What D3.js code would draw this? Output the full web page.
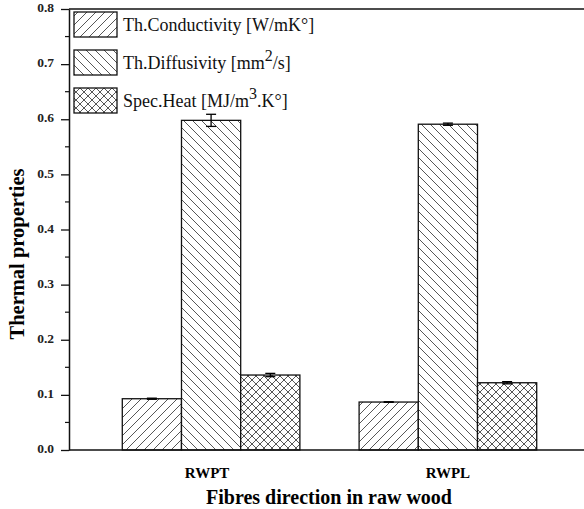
<!DOCTYPE html>
<html>
<head>
<meta charset="utf-8">
<script src="https://cdn.jsdelivr.net/npm/d3@7"></script>
<style>
  body { margin: 0; background: #fff; }
  svg { display: block; }
</style>
</head>
<body>
<div id="chart"></div>
<script>
// Datos
const grupos = ['RWPT', 'RWPL'];
const conductividad = [0.093, 0.087];
const conductividadErr = [0.001, 0.0005];
const difusividad = [0.598, 0.591];
const difusividadErr = [0.011, 0.002];
const calorEsp = [0.136, 0.122];
const calorEspErr = [0.003, 0.002];
const ticksY = [0.0, 0.1, 0.2, 0.3, 0.4, 0.5, 0.6, 0.7, 0.8];

const series = [
  { nombre: 'cond', valores: conductividad, errores: conductividadErr, patron: 'url(#patCond)' },
  { nombre: 'dif', valores: difusividad, errores: difusividadErr, patron: 'url(#patDif)' },
  { nombre: 'calor', valores: calorEsp, errores: calorEspErr, patron: 'url(#patCalor)' }
];

const width = 584, height = 509;
const margen = { left: 69, top: 9, bottom: 450 };
const serif = '"Liberation Serif", "Times New Roman", serif';

const svg = d3.select('#chart').append('svg')
  .attr('width', width).attr('height', height)
  .style('font-family', serif);

// Patrones de relleno
const defs = svg.append('defs');
function patronLineas(id, tam, lineas) {
  const p = defs.append('pattern').attr('id', id)
    .attr('patternUnits', 'userSpaceOnUse').attr('width', tam).attr('height', tam);
  p.append('rect').attr('width', tam).attr('height', tam).attr('fill', '#fff');
  lineas.forEach(d => p.append('path').attr('d', d)
    .attr('stroke', '#444').attr('stroke-width', 0.9).attr('fill', 'none'));
}
patronLineas('patCond', 9, ['M0,9 L9,0', 'M-2,2 L2,-2', 'M7,11 L11,7']);
patronLineas('patDif', 9, ['M0,0 L9,9', 'M-2,7 L2,11', 'M7,-2 L11,2']);
patronLineas('patCalor', 8, ['M0,0 L8,8', 'M0,8 L8,0', 'M-2,6 L2,10', 'M6,-2 L10,2', 'M-2,2 L2,-2', 'M6,10 L10,6']);

// Escalas
const y = d3.scaleLinear().domain([0, 0.8]).range([margen.bottom, margen.top]);
const x = d3.scaleLinear().domain([0.4, 2.6]).range([margen.left, 590]);
const anchoBarra = x(1.25) - x(1);

// Barras
series.forEach((s, i) => {
  const off = (i - 1) * 0.25;
  const g = svg.append('g');
  g.selectAll('rect').data(grupos).enter().append('rect')
    .attr('x', (d, k) => x(k + 1 + off) - anchoBarra / 2)
    .attr('y', (d, k) => y(s.valores[k]))
    .attr('width', anchoBarra)
    .attr('height', (d, k) => y(0) - y(s.valores[k]))
    .attr('fill', s.patron)
    .attr('stroke', '#111').attr('stroke-width', 1.3);

  // Barras de error
  grupos.forEach((d, k) => {
    const cx = x(k + 1 + off);
    const y1 = y(s.valores[k] + s.errores[k]), y2 = y(s.valores[k] - s.errores[k]);
    const eg = g.append('g').attr('stroke', '#000').attr('stroke-width', 1.3);
    eg.append('line').attr('x1', cx).attr('x2', cx).attr('y1', y1).attr('y2', y2);
    eg.append('line').attr('x1', cx - 5).attr('x2', cx + 5).attr('y1', y1).attr('y2', y1);
    eg.append('line').attr('x1', cx - 5).attr('x2', cx + 5).attr('y1', y2).attr('y2', y2);
  });
});

// Eje Y
const ejeY = svg.append('g').attr('transform', `translate(${margen.left},0)`)
  .call(d3.axisLeft(y).tickValues(ticksY).tickFormat(d3.format('.1f')).tickSize(8).tickSizeOuter(0));
ejeY.select('.domain').attr('stroke', '#111').attr('stroke-width', 1.5);
ejeY.selectAll('.tick line').attr('stroke', '#111').attr('stroke-width', 1.3);
ejeY.selectAll('.tick text').attr('font-size', 13.5).attr('font-weight', 'bold')
  .attr('font-family', serif).attr('fill', '#222').attr('x', -15).attr('dy', '0.2em');
// Ticks menores
svg.append('g').selectAll('line').data(d3.range(0.05, 0.8, 0.1)).enter().append('line')
  .attr('x1', margen.left - 4).attr('x2', margen.left)
  .attr('y1', d => y(d)).attr('y2', d => y(d))
  .attr('stroke', '#111').attr('stroke-width', 1.2);

// Eje X y borde superior
svg.append('line').attr('x1', margen.left).attr('x2', width).attr('y1', y(0)).attr('y2', y(0))
  .attr('stroke', '#111').attr('stroke-width', 1.6);
svg.append('line').attr('x1', margen.left).attr('x2', width).attr('y1', y(0.8)).attr('y2', y(0.8))
  .attr('stroke', '#111').attr('stroke-width', 1.6);

svg.append('g').selectAll('text').data(grupos).enter().append('text')
  .attr('x', (d, k) => x(k + 1) - (k === 0 ? 4 : 0)).attr('y', 478)
  .attr('text-anchor', 'middle').attr('font-size', 15).attr('font-weight', 'bold')
  .text(d => d);

// Títulos
svg.append('text').attr('x', 329).attr('y', 504).attr('text-anchor', 'middle')
  .attr('font-size', 20).attr('font-weight', 'bold').text('Fibres direction in raw wood');
svg.append('text').attr('transform', 'translate(24,254) rotate(-90)').attr('text-anchor', 'middle')
  .attr('font-size', 20.5).attr('font-weight', 'bold').text('Thermal properties');

// Leyenda
const leyenda = [
  { patron: 'url(#patCond)', partes: [['Th.Conductivity [W/mK°]', false]] },
  { patron: 'url(#patDif)', partes: [['Th.Diffusivity [mm', false], ['2', true], ['/s]', false]] },
  { patron: 'url(#patCalor)', partes: [['Spec.Heat [MJ/m', false], ['3', true], ['.K°]', false]] }
];
leyenda.forEach((l, i) => {
  const y0 = 12 + i * 38;
  svg.append('rect').attr('x', 74).attr('y', y0).attr('width', 43).attr('height', 25)
    .attr('fill', l.patron).attr('stroke', '#111').attr('stroke-width', 1.3);
  const t = svg.append('text').attr('x', 123).attr('y', y0 + 19).attr('font-size', 18).attr('fill', '#111');
  l.partes.forEach(([txt, sup]) => {
    const ts = t.append('tspan').text(txt);
    if (sup) ts.attr('dy', -8).attr('font-size', 16);
    else if (t.selectAll('tspan').size() > 1) ts.attr('dy', 8);
  });
});
</script>
</body>
</html>
